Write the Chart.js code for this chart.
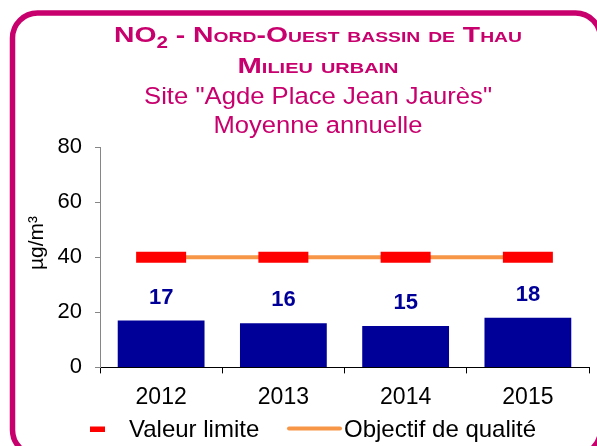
<!DOCTYPE html>
<html lang="fr">
<head>
<meta charset="utf-8">
<title>NO2 - Nord-Ouest bassin de Thau</title>
<script src="https://cdn.jsdelivr.net/npm/chart.js@4.4.0/dist/chart.umd.min.js"></script>
<style>
  html, body { margin: 0; padding: 0; background: #fff; }
  #wrap { width: 597px; height: 446px; }
</style>
</head>
<body>
<div id="wrap"><canvas id="no2Chart" width="597" height="446"></canvas></div>
<script>
// Valeurs
const annees = ['2012', '2013', '2014', '2015'];
const moyennes = [17, 16, 15, 18];
const valeurLimite = [40, 40, 40, 40];
const objectifQualite = [40, 40, 40, 40];
const yMin = 0;
const yMax = 80;
const yPas = 20;

const titreLigne3 = 'Site "Agde Place Jean Jaurès"';
const titreLigne4 = 'Moyenne annuelle';
const uniteY = 'µg/m³';

const FONT = "'Liberation Sans', Arial, sans-serif";
const MAGENTA = '#C8006E';
const BLEU = '#000099';

// lowercase letters become smaller capitals (small caps like in Excel)
function petitesCapitales(texte, grand, petit) {
    const parts = [];
    for (const ch of texte) {
        const size = ch !== ch.toUpperCase() ? petit : grand;
        const last = parts[parts.length - 1];
        if (last && last.size === size) last.t += ch.toUpperCase();
        else parts.push({ t: ch.toUpperCase(), size: size, dy: 0, bold: true });
    }
    return parts;
}

// draws a run of text parts centred on cx, stretched to the given width
function ligneAjustee(ctx, parts, cx, base, largeur) {
    let total = 0;
    parts.forEach(p => {
        ctx.font = (p.bold ? 'bold ' : '') + p.size + 'px ' + FONT;
        p.w = ctx.measureText(p.t).width;
        total += p.w;
    });
    ctx.save();
    ctx.translate(cx - largeur / 2, base);
    ctx.scale(largeur / total, 1);
    let x = 0;
    parts.forEach(p => {
        ctx.font = (p.bold ? 'bold ' : '') + p.size + 'px ' + FONT;
        ctx.fillText(p.t, x, p.dy);
        x += p.w;
    });
    ctx.restore();
}

// Cadre, titres, unité et légende
const decorPlugin = {
    id: 'decor',
    beforeDraw(chart) {
        const ctx = chart.ctx;
        ctx.save();
        ctx.fillStyle = '#fff';
        ctx.fillRect(0, 0, chart.width, chart.height);
        ctx.restore();
    },
    afterDraw(chart) {
        const ctx = chart.ctx;
        ctx.save();

        // cadre arrondi
        ctx.strokeStyle = MAGENTA;
        ctx.lineWidth = 5.5;
        ctx.beginPath();
        ctx.roundRect(12.5, 13, 588, 442, 25);
        ctx.stroke();

        // titres
        ctx.fillStyle = MAGENTA;
        ctx.textBaseline = 'alphabetic';
        ctx.textAlign = 'left';
        const l1 = [{ t: 'NO', size: 22, dy: 0, bold: true }, { t: '2', size: 16, dy: 6, bold: true }]
            .concat(petitesCapitales(' - Nord-Ouest bassin de Thau', 22, 15));
        ligneAjustee(ctx, l1, 318, 42, 408);
        ligneAjustee(ctx, petitesCapitales('Milieu urbain', 22, 15), 318, 73, 161);
        ligneAjustee(ctx, [{ t: titreLigne3, size: 24.5, dy: 0 }], 318, 104, 348);
        ligneAjustee(ctx, [{ t: titreLigne4, size: 24.5, dy: 0 }], 318, 133, 209);

        // titre de l'axe Y
        ctx.save();
        ctx.translate(37, 243);
        ctx.rotate(-Math.PI / 2);
        ctx.fillStyle = '#000';
        ctx.font = '21px ' + FONT;
        ctx.textAlign = 'center';
        ctx.textBaseline = 'middle';
        ctx.fillText(uniteY, 0, 0);
        ctx.restore();

        // légende
        const dsLimite = chart.data.datasets[0];
        const dsObjectif = chart.data.datasets[1];
        ctx.fillStyle = dsLimite.pointBorderColor;
        ctx.fillRect(90, 426.5, 15, 5.5);
        ctx.strokeStyle = dsObjectif.borderColor;
        ctx.lineWidth = 4;
        ctx.lineCap = 'round';
        ctx.beginPath();
        ctx.moveTo(289, 428.5);
        ctx.lineTo(340, 428.5);
        ctx.stroke();
        ctx.fillStyle = '#000';
        ctx.font = '24px ' + FONT;
        ctx.textAlign = 'left';
        ctx.textBaseline = 'alphabetic';
        ctx.fillText(dsLimite.label, 129, 436.5);
        ctx.fillText(dsObjectif.label, 344, 436.5);

        ctx.restore();
    }
};

// Valeurs au-dessus des barres
const etiquettesPlugin = {
    id: 'etiquettes',
    afterDatasetsDraw(chart) {
        const ctx = chart.ctx;
        const meta = chart.getDatasetMeta(2);
        ctx.save();
        ctx.fillStyle = BLEU;
        ctx.font = 'bold 22px ' + FONT;
        ctx.textAlign = 'center';
        ctx.textBaseline = 'alphabetic';
        meta.data.forEach((bar, i) => {
            ctx.fillText(String(moyennes[i]), bar.x, bar.y - 17);
        });
        ctx.restore();
    }
};

const ctx = document.getElementById('no2Chart').getContext('2d');
const no2Chart = new Chart(ctx, {
    data: {
        labels: annees,
        datasets: [
            {
                type: 'line',
                label: 'Valeur limite',
                data: valeurLimite,
                showLine: false,
                pointStyle: 'line',
                pointRadius: 25,
                pointBorderWidth: 11,
                pointBorderColor: '#FF0000',
                pointBackgroundColor: '#FF0000',
                order: 0
            },
            {
                type: 'line',
                label: 'Objectif de qualité',
                data: objectifQualite,
                borderColor: '#F79646',
                borderWidth: 4,
                pointRadius: 0,
                fill: false,
                order: 1
            },
            {
                type: 'bar',
                label: 'Moyenne annuelle',
                data: moyennes,
                backgroundColor: BLEU,
                barPercentage: 0.71,
                categoryPercentage: 1,
                order: 2
            }
        ]
    },
    options: {
        responsive: false,
        animation: false,
        events: [],
        layout: {
            autoPadding: false,
            padding: { left: 20, right: 8, top: 147, bottom: 25 }
        },
        plugins: {
            legend: { display: false },
            title: { display: false },
            tooltip: { enabled: false }
        },
        scales: {
            x: {
                grid: { drawOnChartArea: false, tickLength: 6, color: '#000', offset: true },
                border: { color: '#000', width: 1 },
                ticks: { color: '#000', padding: 10, font: { family: FONT, size: 23 } }
            },
            y: {
                min: yMin,
                max: yMax,
                afterFit(scale) { scale.width = 80; },
                grid: { drawOnChartArea: false, tickLength: 5, color: '#868686' },
                border: { color: '#868686', width: 1 },
                ticks: { stepSize: yPas, color: '#000', padding: 13, font: { family: FONT, size: 22 } }
            }
        }
    },
    plugins: [decorPlugin, etiquettesPlugin]
});
</script>
</body>
</html>
